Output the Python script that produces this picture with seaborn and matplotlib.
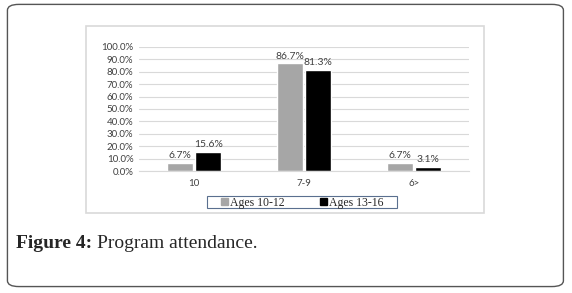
import pandas as pd
import matplotlib.pyplot as plt
import seaborn as sns
from matplotlib.patches import FancyBboxPatch, Rectangle

# data
categories = ['10', '7-9', '6>']
ages_10_12 = [6.7, 86.7, 6.7]
ages_13_16 = [15.6, 81.3, 3.1]
groups = ['Ages 10-12', 'Ages 13-16']

df = pd.DataFrame({
    'category': categories * 2,
    'value': ages_10_12 + ages_13_16,
    'group': [groups[0]] * 3 + [groups[1]] * 3,
})

sns.set_style('white')
plt.rcParams['font.family'] = ['Lato', 'DejaVu Sans']

fig = plt.figure(figsize=(5.72, 2.93), dpi=100)

# outer rounded frame and inner chart box
fig.patches.append(FancyBboxPatch((0.013, 0.022), 0.972, 0.963, boxstyle='round,pad=0,rounding_size=0.02',
                                  transform=fig.transFigure, fill=False, edgecolor='#555555', linewidth=1.0))
fig.patches.append(Rectangle((0.150, 0.273), 0.696, 0.638, transform=fig.transFigure,
                             fill=False, edgecolor='#d9d9d9', linewidth=1.2))
# legend frame
fig.patches.append(Rectangle((0.362, 0.290), 0.332, 0.040, transform=fig.transFigure,
                             fill=False, edgecolor='#5a6f8f', linewidth=0.8))

ax = fig.add_axes([0.243, 0.416, 0.577, 0.424])
sns.barplot(data=df, x='category', y='value', hue='group', order=categories,
            palette=['#a6a6a6', '#000000'], width=0.52, gap=0.1, ax=ax, legend=False)

ax.set_ylim(0, 100)
ax.set_yticks(range(0, 101, 10))
ax.set_yticklabels([f'{v:.1f}%' for v in range(0, 101, 10)], fontsize=7, color='#404040')
ax.tick_params(axis='x', labelsize=7, labelcolor='#404040', pad=6, length=0)
ax.tick_params(axis='y', length=0, pad=4)
ax.yaxis.grid(True, color='#d9d9d9', linewidth=0.8)
ax.set_axisbelow(True)
ax.set_xlabel('')
ax.set_ylabel('')
for s in ['top', 'right', 'left']:
    ax.spines[s].set_visible(False)
ax.spines['bottom'].set_color('#d9d9d9')

for cont in ax.containers:
    ax.bar_label(cont, fmt='%.1f%%', fontsize=7.5, color='#404040', padding=2)

# legend
handles = [Rectangle((0, 0), 1, 1, color='#a6a6a6'), Rectangle((0, 0), 1, 1, color='#000000')]
fig.legend(handles, groups, loc='center', bbox_to_anchor=(0.528, 0.308), ncol=2,
           prop={'family': 'Liberation Serif', 'size': 8.5}, frameon=False,
           handlelength=0.6, handleheight=0.6, handletextpad=0.15, columnspacing=3.0,
           borderpad=0.15, borderaxespad=0)

# caption
t1 = fig.text(0.028, 0.17, 'Figure 4:', fontsize=14, fontweight='bold', family='Liberation Serif', va='center')
fig.canvas.draw()
bb = t1.get_window_extent(fig.canvas.get_renderer()).transformed(fig.transFigure.inverted())
fig.text(bb.x1 + 0.008, 0.17, 'Program attendance.', fontsize=14, family='Liberation Serif', va='center')

fig.savefig('out.png', dpi=100)
